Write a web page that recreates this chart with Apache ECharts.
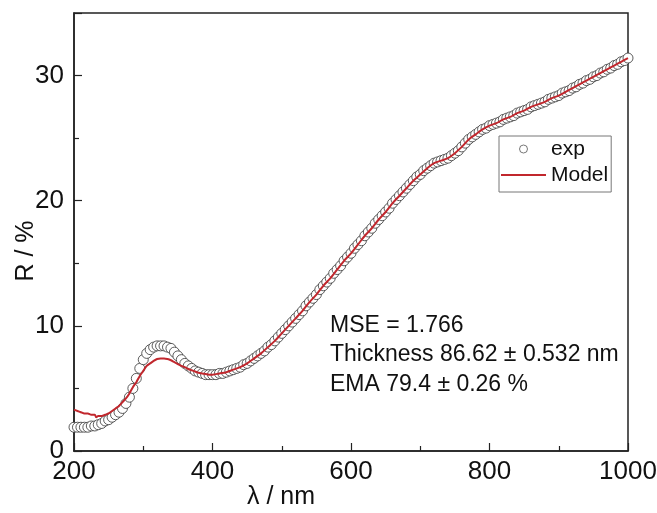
<!DOCTYPE html>
<html>
<head>
<meta charset="utf-8">
<script src="https://cdn.jsdelivr.net/npm/echarts@6/dist/echarts.min.js"></script>
<style>html,body{margin:0;padding:0;background:#fff}#c{width:657px;height:513px}</style>
</head>
<body>
<div id="c"></div>
<script>
// Experimental data: wavelength (nm) every 5 nm from 200 to 1000
var expWl = [200,205,210,215,220,225,230,235,240,245,250,255,260,265,270,275,280,285,290,295,300,305,310,315,320,325,330,335,340,345,350,355,360,365,370,375,380,385,390,395,400,405,410,415,420,425,430,435,440,445,450,455,460,465,470,475,480,485,490,495,500,505,510,515,520,525,530,535,540,545,550,555,560,565,570,575,580,585,590,595,600,605,610,615,620,625,630,635,640,645,650,655,660,665,670,675,680,685,690,695,700,705,710,715,720,725,730,735,740,745,750,755,760,765,770,775,780,785,790,795,800,805,810,815,820,825,830,835,840,845,850,855,860,865,870,875,880,885,890,895,900,905,910,915,920,925,930,935,940,945,950,955,960,965,970,975,980,985,990,995,1000];
var expR = [1.9,1.9,1.9,1.9,1.9,2.0,2.0,2.1,2.2,2.4,2.5,2.7,2.9,3.1,3.4,3.8,4.3,5.0,5.8,6.6,7.3,7.8,8.1,8.3,8.4,8.4,8.4,8.3,8.2,7.9,7.6,7.3,7.0,6.8,6.6,6.4,6.3,6.2,6.1,6.1,6.1,6.1,6.2,6.2,6.3,6.4,6.5,6.6,6.7,6.9,7.0,7.2,7.4,7.6,7.8,8.0,8.3,8.5,8.8,9.1,9.4,9.7,10.0,10.3,10.6,10.9,11.2,11.6,11.9,12.2,12.5,12.9,13.2,13.5,13.8,14.2,14.5,14.8,15.2,15.5,15.8,16.2,16.5,16.8,17.2,17.5,17.8,18.2,18.5,18.8,19.1,19.4,19.8,20.1,20.4,20.7,21.0,21.3,21.6,21.9,22.1,22.4,22.6,22.8,23.0,23.1,23.2,23.3,23.4,23.6,23.8,24.0,24.3,24.6,24.9,25.1,25.3,25.5,25.7,25.8,26.0,26.1,26.2,26.3,26.5,26.6,26.7,26.8,27.0,27.1,27.2,27.3,27.5,27.6,27.7,27.8,27.9,28.1,28.2,28.3,28.4,28.6,28.7,28.8,29.0,29.1,29.3,29.4,29.6,29.7,29.9,30.0,30.2,30.3,30.5,30.6,30.8,30.9,31.1,31.2,31.4];

// Model fit
var modelWl = [200,205,210,215,220,225,230,232,235,240,245,250,255,260,265,270,275,280,285,290,295,300,305,310,315,320,325,330,335,340,345,350,355,360,365,370,375,380,385,390,395,400,410,420,430,440,450,460,470,480,490,500,510,520,530,540,550,560,570,580,590,600,610,620,630,640,650,660,670,680,690,700,710,720,730,740,750,760,770,780,790,800,810,820,830,840,850,860,870,880,890,900,910,920,930,940,950,960,970,980,990,1000];
var modelR = [3.3,3.2,3.1,3.0,3.0,2.9,2.9,2.7,2.8,2.8,2.9,3.0,3.2,3.4,3.6,3.9,4.2,4.6,5.1,5.5,6.0,6.4,6.8,7.0,7.2,7.35,7.4,7.4,7.35,7.25,7.1,6.95,6.8,6.7,6.55,6.45,6.35,6.25,6.2,6.15,6.1,6.1,6.2,6.3,6.5,6.7,7.0,7.4,7.8,8.3,8.8,9.4,10.0,10.6,11.2,11.9,12.5,13.2,13.8,14.5,15.2,15.8,16.5,17.2,17.8,18.5,19.1,19.8,20.4,21.0,21.6,22.1,22.6,23.0,23.2,23.4,23.8,24.3,24.9,25.3,25.7,26.0,26.2,26.5,26.7,27.0,27.2,27.5,27.7,27.9,28.2,28.4,28.7,29.0,29.3,29.6,29.9,30.2,30.5,30.8,31.1,31.4];

var xTicks = [200, 400, 600, 800, 1000];
var yTicks = [0, 10, 20, 30];
var annotations = ['MSE = 1.766', 'Thickness 86.62 \u00b1 0.532 nm', 'EMA 79.4 \u00b1 0.26 %'];

function pairs(xs, ys) { return xs.map(function (x, i) { return [x, ys[i]]; }); }

var FONT = '"Liberation Sans", Arial, Helvetica, sans-serif';
var chart = echarts.init(document.getElementById('c'), null, { renderer: 'canvas' });
chart.setOption({
  animation: false,
  backgroundColor: '#ffffff',
  grid: { left: 74, right: 29, top: 13, bottom: 62, show: true, borderColor: '#222', borderWidth: 1.5,
    backgroundColor: 'transparent', containLabel: false, outerBoundsMode: 'none' },
  xAxis: {
    type: 'value', min: 200, max: 1000, interval: 200,
    name: '\u03bb / nm', nameLocation: 'middle', nameGap: 34, nameMoveOverlap: false,
    nameTextStyle: { fontFamily: FONT, fontSize: 25, color: '#111', padding: [0, 140, 0, 0] },
    axisLine: { show: true, lineStyle: { color: '#222', width: 1.5 } },
    axisTick: { show: true, inside: true, length: 8, lineStyle: { color: '#222', width: 1.2 } },
    minorTick: { show: true, splitNumber: 2, length: 5, lineStyle: { color: '#222', width: 1.2 } },
    axisLabel: { fontFamily: FONT, fontSize: 26, color: '#111', margin: 8,
      formatter: function (v) { return xTicks.indexOf(v) >= 0 ? String(v) : ''; } },
    splitLine: { show: false }
  },
  yAxis: {
    type: 'value', min: 0, max: 35, interval: 10,
    name: 'R / %', nameLocation: 'middle', nameGap: 35, nameMoveOverlap: false,
    nameTextStyle: { fontFamily: FONT, fontSize: 25, color: '#111', padding: [0, 38, 0, 0] },
    axisLine: { show: true, lineStyle: { color: '#222', width: 1.5 } },
    axisTick: { show: true, inside: true, length: 8, lineStyle: { color: '#222', width: 1.2 } },
    minorTick: { show: true, splitNumber: 2, length: 5, lineStyle: { color: '#222', width: 1.2 } },
    axisLabel: { fontFamily: FONT, fontSize: 26, color: '#111', margin: 10, showMaxLabel: false,
      formatter: function (v) { return yTicks.indexOf(v) >= 0 ? String(v) : ''; } },
    splitLine: { show: false }
  },
  legend: {
    orient: 'vertical', left: 499, top: 136,
    padding: [2, 3, 6, 1], itemGap: 4, itemWidth: 45, itemHeight: 8,
    borderColor: '#777', borderWidth: 1, backgroundColor: '#fff',
    textStyle: { fontFamily: FONT, fontSize: 21, color: '#111', lineHeight: 22 },
    data: [
      { name: 'exp', icon: 'circle', itemStyle: { color: '#fff', borderColor: '#555', borderWidth: 0.8 } },
      { name: 'Model', itemStyle: { color: 'rgba(0,0,0,0)', borderWidth: 0, opacity: 0 } }
    ]
  },
  series: [
    {
      name: 'exp', type: 'scatter', data: pairs(expWl, expR),
      symbol: 'circle', symbolSize: 10,
      itemStyle: { color: '#fff', borderColor: '#333', borderWidth: 0.8, opacity: 1 },
      z: 2
    },
    {
      name: 'Model', type: 'line', data: pairs(modelWl, modelR),
      symbol: 'none', smooth: 0.3,
      lineStyle: { color: '#c1272d', width: 2 },
      itemStyle: { color: '#c1272d' },
      z: 3
    }
  ],
  graphic: annotations.map(function (t, i) {
    return { type: 'text', left: 330, top: 314 + i * 29.5,
      style: { text: t, fontFamily: FONT, fontSize: 23, fill: '#111' }, z: 10 };
  })
});
</script>
</body>
</html>
